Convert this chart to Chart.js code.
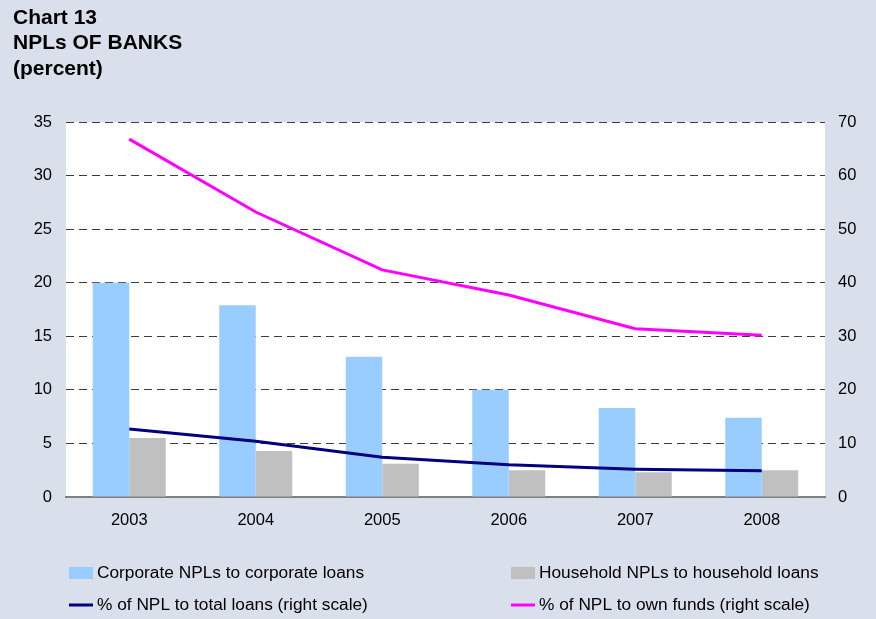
<!DOCTYPE html>
<html>
<head>
<meta charset="utf-8">
<script src="https://cdn.jsdelivr.net/npm/chart.js@4"></script>
<style>
html,body{margin:0;padding:0;background:#d9dfeb;}
#wrap{position:relative;width:876px;height:619px;}
</style>
</head>
<body>
<div id="wrap"><canvas id="c" width="876" height="619"></canvas></div>
<script>
const titleLines = ['Chart 13', 'NPLs OF BANKS', '(percent)'];
const years = ['2003', '2004', '2005', '2006', '2007', '2008'];
const corporateNPL = [20.0, 17.9, 13.1, 10.0, 8.3, 7.4];
const householdNPL = [5.5, 4.3, 3.1, 2.5, 2.3, 2.5];
const nplTotalLoans = [12.7, 10.4, 7.4, 6.0, 5.2, 4.9];
const nplOwnFunds = [66.8, 53.2, 42.4, 37.7, 31.4, 30.2];
const leftTicks = [0, 5, 10, 15, 20, 25, 30, 35];
const rightTicks = [0, 10, 20, 30, 40, 50, 60, 70];

const FONT = "'Liberation Sans', Arial, sans-serif";

const bgPlugin = {
  id: 'bg',
  beforeDraw(chart) {
    const {ctx, chartArea: a} = chart;
    ctx.save();
    ctx.fillStyle = '#d9dfeb';
    ctx.fillRect(0, 0, chart.width, chart.height);
    ctx.fillStyle = '#ffffff';
    ctx.fillRect(a.left, a.top, a.right - a.left, a.bottom - a.top);
    ctx.fillStyle = '#000000';
    ctx.font = 'bold 21px ' + FONT;
    ctx.textBaseline = 'middle';
    ctx.textAlign = 'left';
    const ys = [18, 43.5, 69.5];
    titleLines.forEach((t, i) => ctx.fillText(t, 13, ys[i]));
    ctx.restore();
  }
};

const legendPlugin = {
  id: 'customLegend',
  afterDraw(chart) {
    const {ctx} = chart;
    const ds = chart.data.datasets;
    const pos = [[69, 573], [511, 573], [69, 605], [511, 605]];
    ctx.save();
    ctx.font = '17.3px ' + FONT;
    ctx.textBaseline = 'middle';
    ctx.textAlign = 'left';
    ds.forEach((d, i) => {
      const [x, y] = pos[i];
      if (d.type === 'line') {
        ctx.strokeStyle = d.borderColor;
        ctx.lineWidth = 3;
        ctx.beginPath();
        ctx.moveTo(x, y);
        ctx.lineTo(x + 24, y);
        ctx.stroke();
      } else {
        ctx.fillStyle = d.backgroundColor;
        ctx.fillRect(x, y - 6, 24, 12);
      }
      ctx.fillStyle = '#000000';
      ctx.fillText(d.label, x + 28, y);
    });
    ctx.restore();
  }
};

new Chart(document.getElementById('c'), {
  data: {
    labels: years,
    datasets: [
      {type: 'bar', label: 'Corporate NPLs to corporate loans', data: corporateNPL,
       backgroundColor: '#99ccff', yAxisID: 'y', order: 2},
      {type: 'bar', label: 'Household NPLs to household loans', data: householdNPL,
       backgroundColor: '#c0c0c0', yAxisID: 'y', order: 2},
      {type: 'line', label: '% of NPL to total loans (right scale)', data: nplTotalLoans,
       borderColor: '#000080', backgroundColor: '#000080', borderWidth: 3,
       pointRadius: 0, tension: 0, yAxisID: 'y2', order: 1},
      {type: 'line', label: '% of NPL to own funds (right scale)', data: nplOwnFunds,
       borderColor: '#ff00ff', backgroundColor: '#ff00ff', borderWidth: 3,
       pointRadius: 0, tension: 0, yAxisID: 'y2', order: 1}
    ]
  },
  options: {
    responsive: false,
    animation: false,
    devicePixelRatio: 1,
    layout: {padding: {top: 122, left: 0, right: 0, bottom: 82}},
    datasets: {bar: {barPercentage: 1.0, categoryPercentage: 0.577}},
    plugins: {legend: {display: false}, tooltip: {enabled: false}, title: {display: false}},
    scales: {
      x: {
        grid: {display: false, drawTicks: false},
        border: {display: true, color: '#808080', width: 2},
        ticks: {color: '#000', font: {family: FONT, size: 16.5}, padding: 14, maxRotation: 0},
        afterFit(s) { s.height = 40; }
      },
      y: {
        position: 'left', min: 0, max: 35,
        afterBuildTicks(s) { s.ticks = leftTicks.map(v => ({value: v})); },
        grid: {
          drawTicks: false,
          color: c => (c.tick && c.tick.value === 0) ? 'rgba(0,0,0,0)' : '#3c3c3c',
          lineWidth: 1
        },
        border: {display: false, dash: [8, 5]},
        ticks: {color: '#000', font: {family: FONT, size: 16.5}, padding: 14},
        afterFit(s) { s.width = 66; }
      },
      y2: {
        position: 'right', min: 0, max: 70,
        afterBuildTicks(s) { s.ticks = rightTicks.map(v => ({value: v})); },
        grid: {display: false, drawTicks: false},
        border: {display: false},
        ticks: {color: '#000', font: {family: FONT, size: 16.5}, padding: 13},
        afterFit(s) { s.width = 51; }
      }
    }
  },
  plugins: [bgPlugin, legendPlugin]
});
</script>
</body>
</html>
